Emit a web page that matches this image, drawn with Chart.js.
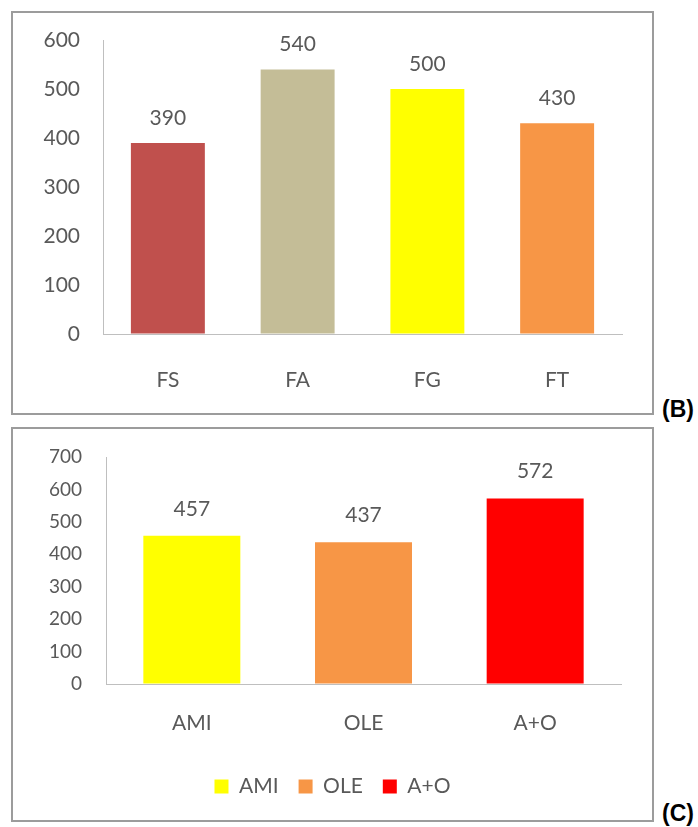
<!DOCTYPE html>
<html>
<head>
<meta charset="utf-8">
<script src="https://cdn.jsdelivr.net/npm/chart.js@4/dist/chart.umd.min.js"></script>
<style>
  html, body { margin: 0; padding: 0; background: #fff; }
  body { width: 698px; height: 827px; position: relative; overflow: hidden; }
  .frame { position: absolute; border: 2px solid #9c9c9c; box-sizing: border-box; background: #fff; }
  .frame canvas { position: absolute; left: 0; top: 0; }
  .tag { position: absolute; font: bold 23px "Liberation Sans", Arial, sans-serif; color: #000; line-height: 1; }
</style>
</head>
<body>
<div class="frame" style="left:11px; top:11px; width:643px; height:404px;">
  <canvas id="chartB" width="639" height="400"></canvas>
</div>
<div class="tag" style="left:662px; top:398px;">(B)</div>

<div class="frame" style="left:11px; top:427px; width:643px; height:395px;">
  <canvas id="chartC" width="639" height="391"></canvas>
</div>
<div class="tag" style="left:662px; top:802px;">(C)</div>

<script>
// Panel B
const bCategories = ['FS', 'FA', 'FG', 'FT'];
const bValues = [390, 540, 500, 430];
const bColors = ['#C0504D', '#C4BD97', '#FFFF00', '#F79646'];
const bTicks = { min: 0, max: 600, step: 100 };

// Panel C
const cCategories = ['AMI', 'OLE', 'A+O'];
const cValues = [457, 437, 572];
const cColors = ['#FFFF00', '#F79646', '#FF0000'];
const cTicks = { min: 0, max: 700, step: 100 };

const FONT = 'Lato';
const TEXT = '#595959';
const AXIS = '#BFBFBF';
const NONE = 'rgba(0,0,0,0)';

// Writes each bar's value centred above its top edge
const valueLabels = {
  id: 'valueLabels',
  afterDatasetsDraw(chart, args, opts) {
    const ctx = chart.ctx;
    const meta = chart.getDatasetMeta(0);
    const data = chart.data.datasets[0].data;
    ctx.save();
    ctx.font = `${opts.size}px ${FONT}`;
    ctx.fillStyle = TEXT;
    ctx.textAlign = 'center';
    ctx.textBaseline = 'middle';
    meta.data.forEach((bar, i) => {
      ctx.fillText(String(data[i]), bar.x, bar.y - opts.offset);
    });
    ctx.restore();
  }
};

// invisible tick marks give the label gap without widening the layout padding
const gapGrid = len => ({ display: true, drawOnChartArea: false, drawTicks: true, tickLength: len, color: NONE });

function makeChart(id, cats, vals, colors, ticks, lay) {
  return new Chart(document.getElementById(id), {
    type: 'bar',
    data: {
      labels: cats,
      datasets: [{
        data: vals,
        backgroundColor: colors,
        borderWidth: 0,
        categoryPercentage: lay.barFrac,
        barPercentage: 1
      }]
    },
    options: {
      responsive: false,
      animation: false,
      layout: { padding: lay.padding },
      plugins: {
        tooltip: { enabled: false },
        valueLabels: { size: lay.labelSize, offset: lay.labelOffset },
        legend: lay.legend
      },
      scales: {
        x: {
          grid: gapGrid(lay.xPad),
          border: { display: true, color: AXIS, width: 1 },
          ticks: { color: TEXT, font: { family: FONT, size: lay.catSize }, padding: 0 },
          afterFit: s => { s.height = lay.xHeight; }
        },
        y: {
          min: ticks.min,
          max: ticks.max,
          grid: gapGrid(lay.yPad),
          border: { display: true, color: AXIS, width: 1 },
          ticks: { stepSize: ticks.step, color: TEXT, font: { family: FONT, size: lay.tickSize }, padding: 0 },
          afterFit: s => { s.width = lay.yWidth; }
        },
        // empty margin on the right of the plot
        yRight: {
          type: 'linear',
          position: 'right',
          display: true,
          grid: { display: false, drawTicks: false },
          border: { display: false },
          ticks: { display: false },
          afterFit: s => { s.width = lay.rightGap; }
        }
      }
    },
    plugins: [valueLabels]
  });
}

makeChart('chartB', bCategories, bValues, bColors, bTicks, {
  barFrac: 0.57,
  padding: { left: 0, right: 0, top: 27, bottom: 0 },
  rightGap: 30,
  labelSize: 21, labelOffset: 25,
  catSize: 21, tickSize: 21,
  xPad: 34, xHeight: 79,
  yPad: 23, yWidth: 90,
  legend: { display: false }
});

makeChart('chartC', cCategories, cValues, cColors, cTicks, {
  barFrac: 0.565,
  padding: { left: 0, right: 0, top: 28, bottom: 13 },
  rightGap: 31,
  labelSize: 21, labelOffset: 27,
  catSize: 21, tickSize: 19,
  xPad: 27, xHeight: 72,
  yPad: 24, yWidth: 93,
  legend: {
    display: true,
    position: 'bottom',
    labels: {
      color: TEXT,
      font: { family: FONT, size: 21 },
      boxWidth: 14,
      boxHeight: 14,
      padding: 20,
      generateLabels: () => cCategories.map((name, i) => ({
        text: name,
        fillStyle: cColors[i],
        strokeStyle: cColors[i],
        lineWidth: 0,
        hidden: false,
        index: i,
        datasetIndex: 0,
        fontColor: TEXT
      }))
    }
  }
});
</script>
</body>
</html>
